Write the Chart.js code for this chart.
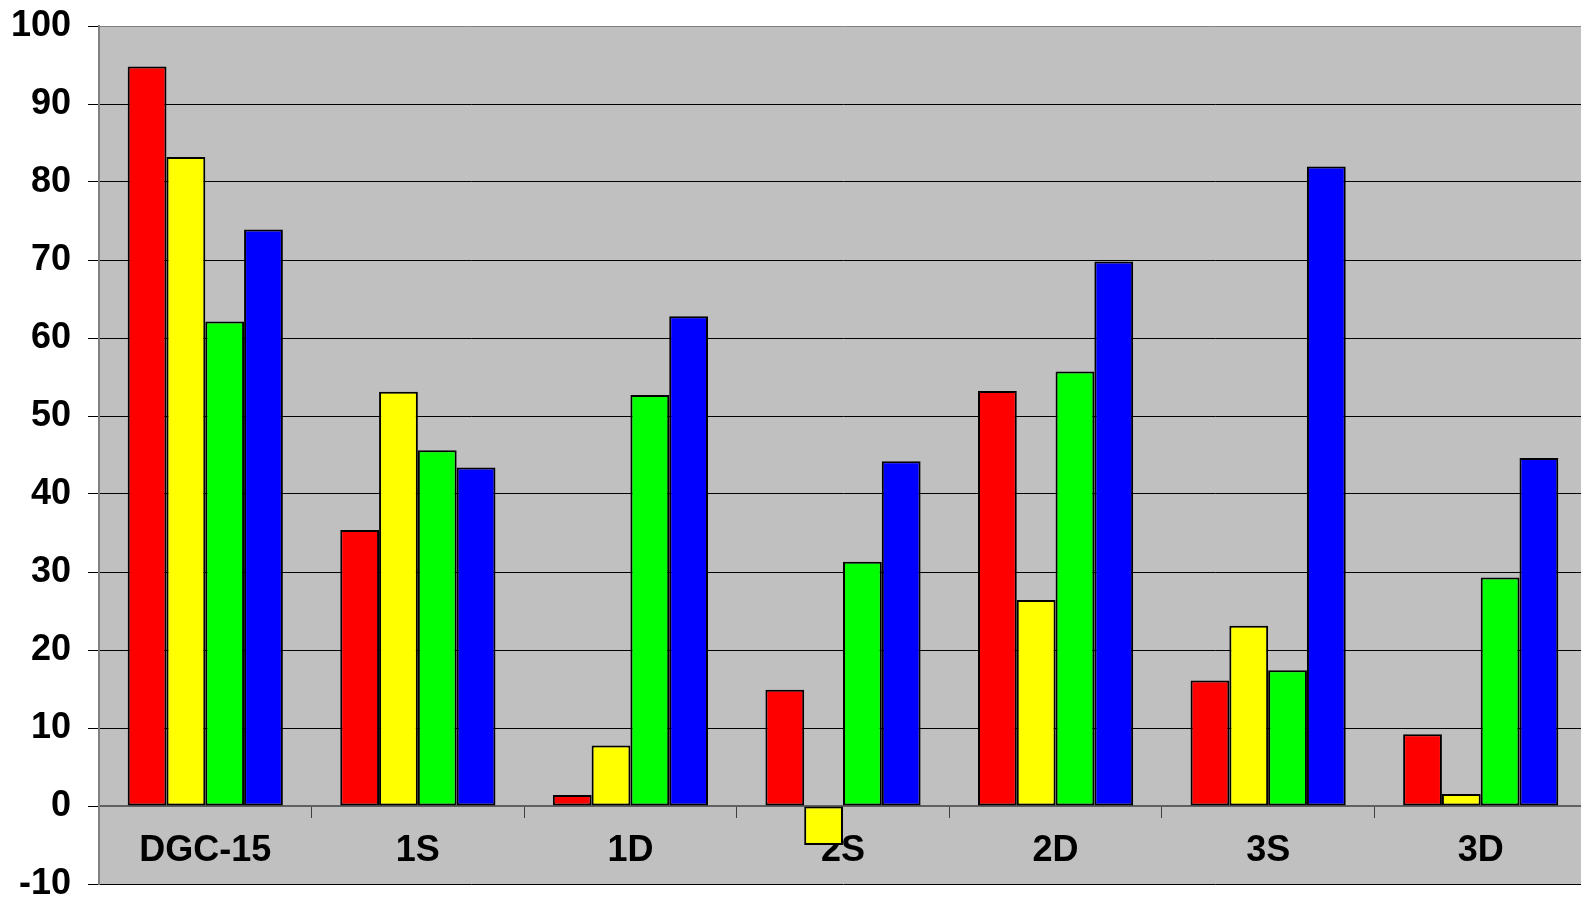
<!DOCTYPE html>
<html>
<head>
<meta charset="utf-8">
<script src="https://cdn.jsdelivr.net/npm/chart.js@4"></script>
<style>
  html, body { margin: 0; padding: 0; background: #fff; overflow: hidden; }
  .wrap { width: 1587px; height: 900px; }
</style>
</head>
<body>
<div class="wrap"><canvas id="myChart"></canvas></div>
<script>
const categories = ['DGC-15', '1S', '1D', '2S', '2D', '3S', '3D'];
const redValues = [94.8, 35.4, 1.4, 14.9, 53.2, 16.1, 9.2];
const yellowValues = [83.2, 53.1, 7.75, -5.0, 26.4, 23.1, 1.55];
const greenValues = [62.1, 45.6, 52.7, 31.3, 55.7, 17.4, 29.3];
const blueValues = [73.9, 43.4, 62.8, 44.2, 69.8, 82.0, 44.6];
const yTicks = [-10, 0, 10, 20, 30, 40, 50, 60, 70, 80, 90, 100];

const plotBackground = {
  id: 'plotBackground',
  beforeDraw(chart) {
    const a = chart.chartArea;
    const c = chart.ctx;
    c.save();
    c.fillStyle = '#C0C0C0';
    c.fillRect(a.left, a.top, a.right - a.left, a.bottom - a.top);
    c.restore();
  }
};

function series(label, data, color) {
  return {
    label: label,
    data: data,
    backgroundColor: color,
    borderColor: '#000',
    borderWidth: 2,
    borderSkipped: false,
    categoryPercentage: 0.73,
    barPercentage: 1
  };
}

const ctx = document.getElementById('myChart');

new Chart(ctx, {
  type: 'bar',
  data: {
    labels: categories,
    datasets: [
      series('Series 1', redValues, '#FF0000'),
      series('Series 2', yellowValues, '#FFFF00'),
      series('Series 3', greenValues, '#00FF00'),
      series('Series 4', blueValues, '#0000FF')
    ]
  },
  options: {
    responsive: true,
    maintainAspectRatio: false,
    animation: false,
    layout: { padding: { top: 26, bottom: 16, left: 0, right: 0 } },
    plugins: {
      legend: { display: false },
      tooltip: { enabled: false }
    },
    scales: {
      x: {
        position: { y: 0 },
        grid: { drawOnChartArea: false, tickLength: 11, color: '#404040', lineWidth: 1 },
        border: { color: '#606060', width: 2 },
        ticks: {
          color: '#000',
          padding: 12,
          font: { family: 'Liberation Sans, Arial, sans-serif', size: 36, weight: 'bold' }
        }
      },
      y: {
        min: -10,
        max: 100,
        afterBuildTicks(scale) {
          scale.ticks = yTicks.map(v => ({ value: v }));
        },
        afterFit(scale) {
          scale.width = 99;
          scale.paddingTop = 0;
          scale.paddingBottom = 0;
        },
        grid: {
          tickLength: 11,
          tickColor: '#000',
          lineWidth: 1,
          color(c) {
            if (c.tick && c.tick.value === 100) return '#808080';
            if (c.tick && c.tick.value === 0) return '#606060';
            return '#000';
          }
        },
        border: { color: '#808080', width: 2 },
        ticks: {
          color: '#000',
          padding: 17,
          font: { family: 'Liberation Sans, Arial, sans-serif', size: 36, weight: 'bold' }
        }
      }
    }
  },
  plugins: [plotBackground]
});
</script>
</body>
</html>
